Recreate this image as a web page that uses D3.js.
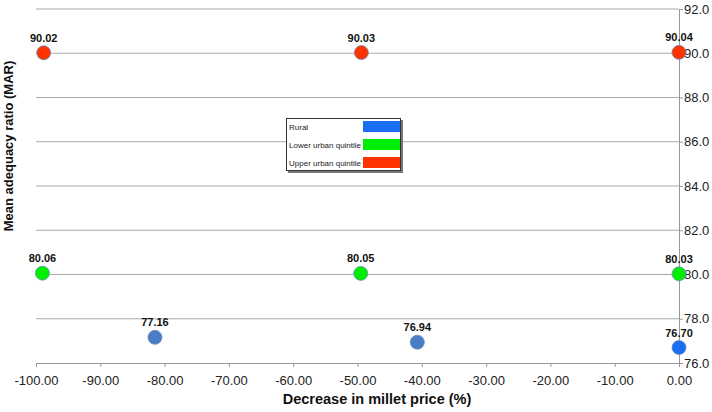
<!DOCTYPE html>
<html><head><meta charset="utf-8">
<script src="https://cdn.jsdelivr.net/npm/d3@7"></script>
<style>body{margin:0;background:#fff}svg{display:block;font-family:"Liberation Sans",Arial,sans-serif}</style>
</head><body><svg id="c" width="712" height="412"></svg>
<script>
const seriesNames = ["Rural", "Lower urban quintile", "Upper urban quintile"];
const seriesColors = ["#4a7ec4", "#00ee00", "#ff3300"];
const legendColors = ["#1a6ef0", "#00ee00", "#ff3300"];
const ruralX = [-81.5, -40.7, 0];
const ruralY = [77.16, 76.94, 76.70];
const lowerX = [-99, -49.5, 0];
const lowerY = [80.06, 80.05, 80.03];
const upperX = [-98.8, -49.4, 0];
const upperY = [90.02, 90.03, 90.04];
const xTicks = [-100, -90, -80, -70, -60, -50, -40, -30, -20, -10, 0];
const yTicks = [76, 78, 80, 82, 84, 86, 88, 90, 92];

const svg = d3.select("#c");
const x = d3.scaleLinear().domain([-100, 0]).range([36, 679]);
const y = d3.scaleLinear().domain([76, 92]).range([363, 9]);

// gridlines
svg.append("g").selectAll("line").data(yTicks.filter(d => d > 76)).join("line")
  .attr("x1", x(-100)).attr("x2", x(0)).attr("y1", d => y(d)).attr("y2", d => y(d))
  .attr("stroke", "#aaaaaa").attr("stroke-width", 1);

// x axis
const xa = svg.append("g").attr("transform", `translate(0,${y(76)})`)
  .call(d3.axisBottom(x).tickValues(xTicks).tickFormat(d => d.toFixed(2)).tickSize(4).tickSizeOuter(0));
xa.select(".domain").attr("stroke", "#999");
xa.selectAll(".tick line").attr("stroke", "#999");
xa.selectAll("text").attr("font-size", 13).attr("fill", "#222").attr("dy", "1.15em")
  .attr("font-family", "Liberation Sans, Arial, sans-serif");

// y axis on right at x=0
const ya = svg.append("g").attr("transform", `translate(${x(0)},0)`)
  .call(d3.axisRight(y).tickValues(yTicks).tickFormat(d => d.toFixed(1)).tickSize(4).tickSizeOuter(0));
ya.select(".domain").attr("stroke", "#999");
ya.selectAll(".tick line").attr("stroke", "#999");
ya.selectAll("text").attr("font-size", 13).attr("fill", "#222").attr("x", 5)
  .attr("font-family", "Liberation Sans, Arial, sans-serif");

const series = [
  {xs: ruralX, ys: ruralY},
  {xs: lowerX, ys: lowerY},
  {xs: upperX, ys: upperY}
];
series.forEach((s, i) => {
  const pts = s.xs.map((v, j) => ({x: v, y: s.ys[j]}));
  const g = svg.append("g");
  g.selectAll("circle").data(pts).join("circle")
    .attr("cx", d => x(d.x)).attr("cy", d => y(d.y)).attr("r", 7)
    .attr("fill", (d, j) => (i === 0 && d.x === 0) ? legendColors[0] : seriesColors[i])
    .attr("stroke", "#6a8cc0").attr("stroke-width", 0.8);
  g.selectAll("text").data(pts).join("text")
    .attr("x", d => x(d.x)).attr("y", d => y(d.y) - 11)
    .attr("text-anchor", "middle").attr("font-size", 11).attr("font-weight", "bold").attr("fill", "#111")
    .text(d => d.y.toFixed(2));
});

// legend
const lg = svg.append("g");
lg.append("rect").attr("x", 288).attr("y", 120).attr("width", 115).attr("height", 53).attr("fill", "#777");
lg.append("rect").attr("x", 286.5).attr("y", 118.5).attr("width", 114).attr("height", 52)
  .attr("fill", "#fff").attr("stroke", "#333").attr("stroke-width", 1);
seriesNames.forEach((n, i) => {
  lg.append("rect").attr("x", 363).attr("y", 121 + i * 18).attr("width", 37).attr("height", 11)
    .attr("fill", legendColors[i]);
  lg.append("text").attr("x", 289).attr("y", 130 + i * 18).attr("font-size", 8).attr("fill", "#222")
    .text(n);
});

// titles
svg.append("text").attr("x", 377).attr("y", 404).attr("text-anchor", "middle")
  .attr("font-size", 14.5).attr("font-weight", "bold").attr("fill", "#111").text("Decrease in millet price (%)");
svg.append("text").attr("transform", "translate(13,146) rotate(-90)").attr("text-anchor", "middle")
  .attr("font-size", 13).attr("font-weight", "bold").attr("fill", "#111").text("Mean adequacy ratio (MAR)");
</script></body></html>
